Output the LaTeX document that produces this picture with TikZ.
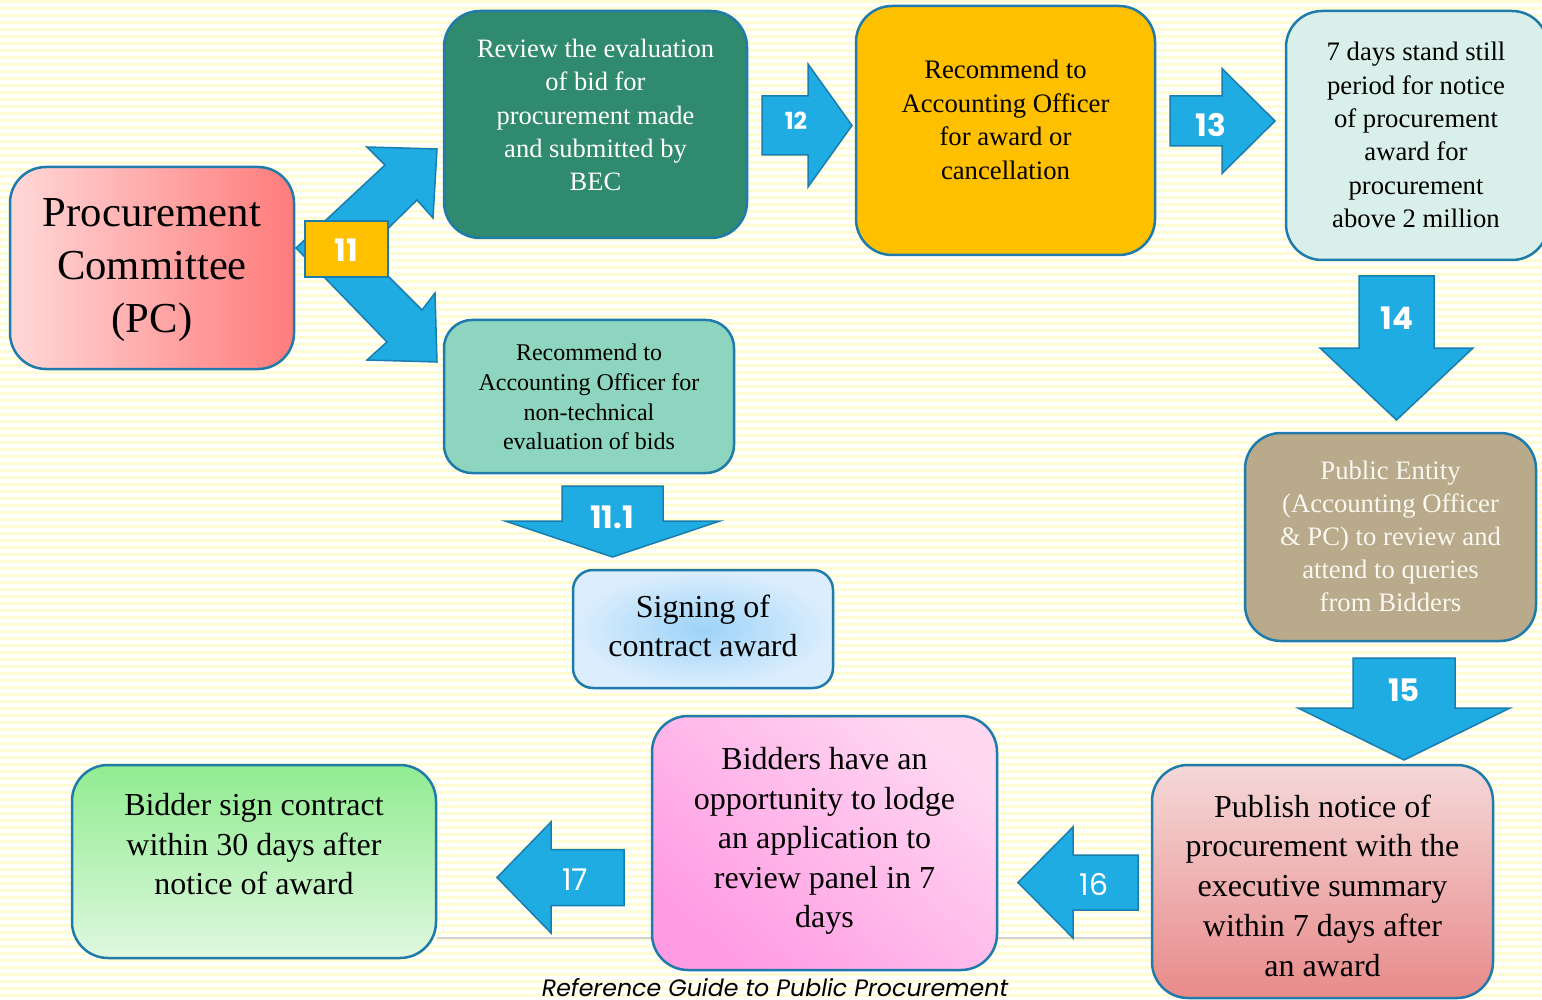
\documentclass[tikz,border=0pt]{standalone}
\usepackage{fontspec}
\setmainfont{Liberation Serif}
\newfontfamily\gothic{Poppins}
\definecolor{bordc}{RGB}{30,123,170}
\definecolor{arrowfill}{RGB}{30,172,226}
\definecolor{arrowdraw}{RGB}{26,125,175}
\definecolor{stripec}{RGB}{255,252,212}
\definecolor{bgreen}{RGB}{47,138,110}
\definecolor{borange}{RGB}{255,192,0}
\definecolor{bcyan}{RGB}{216,239,234}
\definecolor{bmint}{RGB}{141,213,191}
\definecolor{btan}{RGB}{184,170,139}
\definecolor{tantext}{RGB}{250,248,240}
\newcommand\blockH[6]{%
  \draw[barrow] (#1,#4-#5) -- (#2,#4-#5) -- (#2,#4-#6) -- (#3,#4) -- (#2,#4+#6) -- (#2,#4+#5) -- (#1,#4+#5) -- cycle;}
\newcommand\blockV[6]{%
  \draw[barrow] (#1-#5,#2) -- (#1-#5,#3) -- (#1-#6,#3) -- (#1,#4) -- (#1+#6,#3) -- (#1+#5,#3) -- (#1+#5,#2) -- cycle;}
\begin{document}
\begin{tikzpicture}[x=1pt,y=-1pt,
  box/.style={draw=bordc, line width=2.5pt, rounded corners=36pt, inner sep=0pt},
  txt/.style={align=center, inner sep=0pt},
  barrow/.style={fill=arrowfill, draw=arrowdraw, line width=1.5pt, line join=miter},
  num/.style={text=white, inner sep=0pt, font=\gothic\bfseries\fontsize{31}{31}\selectfont},
  thinnum/.style={text=white, inner sep=0pt, font=\gothic\fontsize{30}{30}\selectfont}]
\useasboundingbox (0,0) rectangle (1542,1000);
\clip (0,0) rectangle (1542,1000);
% background
\fill[white] (0,0) rectangle (1542,1000);
\foreach \i in {0,...,143} \fill[stripec] (0,\i*7) rectangle (1542,\i*7+3);
% gray line
\draw[gray!35, line width=1.5pt] (437,938) -- (1152,938);

% boxes
\node[box, left color={rgb,255:red,255;green,216;blue,216}, right color={rgb,255:red,255;green,123;blue,123},
  minimum width=284pt, minimum height=202pt] (pc) at (152,268) {};
\node[txt, font=\fontsize{42.7}{53}\selectfont] (pct) at (152,270) {Procurement\\Committee\\(PC)};

\node[box, fill=bgreen, minimum width=303pt, minimum height=227pt] (rev) at (595.5,124.5) {};
\node[txt, text=white, font=\fontsize{26.5}{33.3}\selectfont] (revt) at (595.5,115) {Review the evaluation\\of bid for\\procurement made\\and submitted by\\BEC};

\node[box, fill=borange, minimum width=299pt, minimum height=249pt] (rec) at (1005.5,130.5) {};
\node[txt, font=\fontsize{26.7}{33.5}\selectfont] (rect) at (1005.5,120) {Recommend to\\Accounting Officer\\for award or\\cancellation};

\node[box, fill=bcyan, minimum width=262pt, minimum height=249pt] (still) at (1417,135.5) {};
\node[txt, font=\fontsize{26.7}{33.4}\selectfont] (stillt) at (1416,135) {7 days stand still\\period for notice\\of procurement\\award for\\procurement\\above 2 million};

\node[box, rounded corners=28pt, fill=bmint, minimum width=290pt, minimum height=153pt] (nontech) at (589,396.5) {};
\node[txt, font=\fontsize{24}{29.6}\selectfont] (nontecht) at (589,397) {Recommend to\\Accounting Officer for\\non-technical\\evaluation of bids};

\node[box, rounded corners=20pt, inner color={rgb,255:red,157;green,211;blue,248}, outer color={rgb,255:red,220;green,238;blue,253},
  minimum width=260pt, minimum height=118pt] (sign) at (703,629) {};
\node[txt, font=\fontsize{32}{39}\selectfont] (signt) at (703,625.5) {Signing of\\contract award};

\node[box, fill=btan, minimum width=291pt, minimum height=208pt] (pub) at (1390.5,537) {};
\node[txt, text=tantext, font=\fontsize{26.7}{33}\selectfont] (pubt) at (1390.5,536) {Public Entity\\(Accounting Officer\\\& PC) to review and\\attend to queries\\from Bidders};

\node[box, top color={rgb,255:red,245;green,216;blue,216}, bottom color={rgb,255:red,232;green,138;blue,138},
  minimum width=341pt, minimum height=233pt] (notice) at (1322.5,881.5) {};
\node[txt, font=\fontsize{32}{39.8}\selectfont] (noticet) at (1322.5,885.5) {Publish notice of\\procurement with the\\executive summary\\within 7 days after\\an award};

\node[box, top color={rgb,255:red,255;green,216;blue,242}, bottom color={rgb,255:red,255;green,155;blue,227}, shading angle=-40,
  minimum width=345pt, minimum height=254pt] (lodge) at (824.5,843) {};
\node[txt, font=\fontsize{32}{39.6}\selectfont] (lodget) at (824.5,841) {Bidders have an\\opportunity to lodge\\an application to\\review panel in 7\\days};

\node[box, top color={rgb,255:red,144;green,236;blue,144}, bottom color={rgb,255:red,224;green,248;blue,224},
  minimum width=364pt, minimum height=193pt] (signc) at (254,861.5) {};
\node[txt, font=\fontsize{32}{39.5}\selectfont] (signct) at (254,844.5) {Bidder sign contract\\within 30 days after\\notice of award};

% arrow 11 (double)
\draw[barrow] (296,248) -- (385,165) -- (367,147) -- (437,149) -- (433,218) -- (417,200) -- (364,252)
  -- (422,310) -- (435,293) -- (437,362) -- (367,360) -- (387,342) -- cycle;
\node[draw=arrowdraw, line width=1.5pt, fill=borange, minimum width=83pt, minimum height=56pt, inner sep=0pt] (a11) at (346.5,249) {};
\node[num] (n11) at (346.5,250) {11};

% straight arrows
\blockH{762}{808}{852}{125.5}{29.5}{61.5}
\node[num, font=\gothic\bfseries\fontsize{23.5}{23.5}\selectfont] (n12) at (796,121) {12};
\blockH{1170}{1222}{1275}{121}{25}{52.5}
\node[num] (n13) at (1211,125) {13};
\blockV{1396.5}{276}{348}{420}{37.5}{76.5}
\node[num] (n14) at (1397,318) {14};
\blockV{612.5}{486}{521}{557}{50.5}{107.5}
\node[num] (n111) at (612,517) {11.1};
\blockV{1404}{658}{708}{760}{51}{106}
\node[num] (n15) at (1404,690) {15};
\blockH{1138}{1073}{1018}{882.5}{27.5}{55.5}
\node[thinnum] (n16) at (1094,884) {16};
\blockH{624}{551}{497}{877.5}{28}{55.5}
\node[thinnum] (n17) at (575,880) {17};

% caption
\node[anchor=base, inner sep=0pt, font=\gothic\itshape\fontsize{23.7}{23.7}\selectfont] (cap) at (775,996) {Reference Guide to Public Procurement};
\end{tikzpicture}
\end{document}
